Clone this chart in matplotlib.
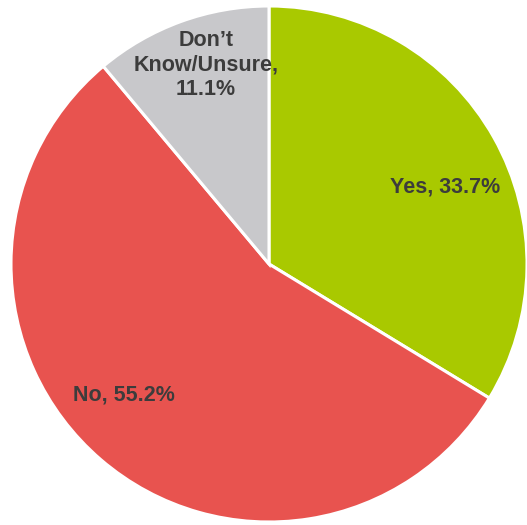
import matplotlib.pyplot as plt

categories = ["Yes", "No", "Don’t\nKnow/Unsure"]
shares = [33.7, 55.2, 11.1]
colors = ["#a9c900", "#e8534f", "#c8c8cb"]

# label anchor points in pixel space (x, y from top)
label_pos = [(445, 187), (124, 395), (206, 65)]

plt.rcParams['font.family'] = ['Liberation Sans', 'DejaVu Sans']

fig = plt.figure(figsize=(5.27, 5.25), dpi=100)
ax = fig.add_axes([0, 0, 1, 1])

# y axis is flipped, so counterclock=True draws clockwise on screen and
# startangle=-90 points at the top
ax.pie(shares, colors=colors, startangle=-90, counterclock=True,
       center=(269, 264), radius=258, frame=True,
       wedgeprops=dict(edgecolor='white', linewidth=2.2))
ax.set_xlim(0, 527)
ax.set_ylim(525, 0)
ax.set_aspect('equal')
ax.axis('off')

for name, val, (x, y) in zip(categories, shares, label_pos):
    sep = ",\n" if "\n" in name else ", "
    ax.text(x, y, f"{name}{sep}{val}%",
            ha='center', va='center', fontsize=15.5, fontweight='bold',
            color='#3c3c3c', linespacing=1.2)

fig.savefig('out.png', dpi=100)
